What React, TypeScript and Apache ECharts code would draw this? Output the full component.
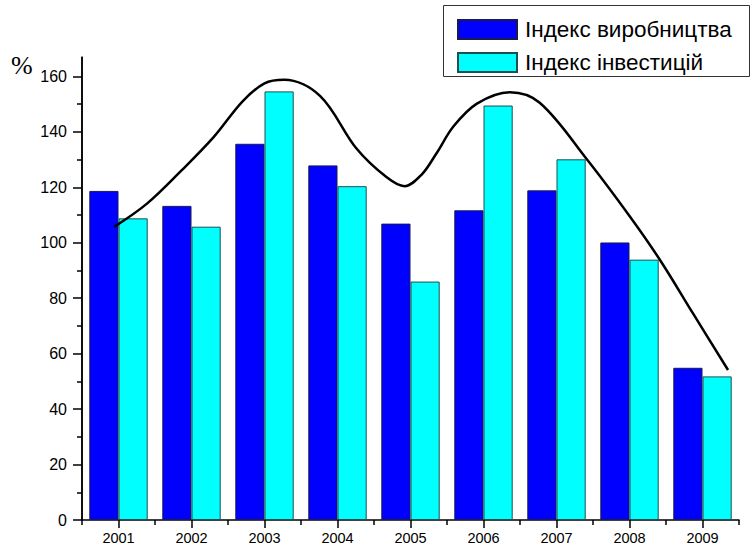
import React, { useEffect, useRef } from "react";
import * as echarts from "echarts";

const years = ["2001", "2002", "2003", "2004", "2005", "2006", "2007", "2008", "2009"];
const production = [118.7, 113.3, 135.7, 127.9, 106.9, 111.7, 118.9, 100.1, 54.9];
const investment = [108.8, 105.8, 154.6, 120.4, 86.0, 149.5, 130.1, 93.9, 51.8];
// Trend curve: [position in category widths from the left edge of the plot, value]
const curveX = [0.44, 0.89, 1.36, 1.8, 2.2, 2.5, 2.77, 3.26, 3.76, 4.17, 4.42, 4.65, 4.85, 5.09, 5.41, 5.86, 6.27, 6.91, 7.51, 7.92, 8.37, 8.85];
const curveY = [105.7, 114.1, 126.0, 138.0, 151.0, 157.5, 158.8, 153.0, 134.0, 123.7, 120.4, 124.5, 132.0, 142.0, 150.2, 154.3, 150.5, 130.3, 109.3, 93.7, 74.5, 54.1];
const majorTicks = [0, 20, 40, 60, 80, 100, 120, 140, 160];
const minorTicks = [10, 30, 50, 70, 90, 110, 130, 150];
const seriesNames = ["Індекс виробництва", "Індекс інвестицій"];

const FONT = "'Liberation Sans', Arial, sans-serif";

export default function App() {
  const ref = useRef<HTMLDivElement>(null);
  useEffect(() => {
    if (!ref.current) return;
    const chart = echarts.init(ref.current, null, { renderer: "svg" });
    const grid = { left: 82, top: 57, width: 657, height: 463 };
    chart.setOption({
      animation: false,
      backgroundColor: "#ffffff",
      grid,
      legend: {
        orient: "vertical",
        left: 457,
        top: 18,
        itemWidth: 59,
        itemHeight: 19,
        itemGap: 10,
        padding: 0,
        icon: "rect",
        data: seriesNames,
        textStyle: { fontFamily: FONT, fontSize: 22.5, color: "#000", padding: [0, 0, 0, 3] },
      },
      graphic: [
        {
          type: "rect",
          shape: { x: 443.5, y: 5.5, width: 306, height: 71 },
          style: { fill: "none", stroke: "#333", lineWidth: 1 },
          z: 1,
        },
        {
          type: "line",
          shape: { x1: grid.left, y1: grid.top, x2: grid.left, y2: grid.top + grid.height },
          style: { stroke: "#000", lineWidth: 1.5 },
          z: 10,
        },
        {
          type: "text",
          x: 11,
          y: 52,
          style: {
            text: "%",
            fontFamily: "'Liberation Serif', 'DejaVu Serif', serif",
            fontSize: 26,
            fill: "#000",
          },
        },
      ],
      xAxis: [
        {
          type: "category",
          data: years,
          boundaryGap: true,
          axisLine: { show: true, onZero: false, lineStyle: { color: "#000", width: 1.5 } },
          axisTick: { show: true, alignWithLabel: true, length: 8, lineStyle: { color: "#000", width: 1.5 } },
          axisLabel: { fontFamily: FONT, fontSize: 14.5, color: "#000", margin: 10 },
          splitLine: { show: false },
        },
        {
          type: "category",
          data: years,
          boundaryGap: true,
          position: "bottom",
          axisLine: { show: false, onZero: false },
          axisTick: { show: true, length: 5, lineStyle: { color: "#000", width: 1.5 } },
          axisLabel: { show: false },
          splitLine: { show: false },
        },
        {
          type: "value",
          min: 0,
          max: 9,
          position: "top",
          axisLine: { show: false, onZero: false },
          axisTick: { show: false },
          axisLabel: { show: false },
          splitLine: { show: false },
        },
      ],
      yAxis: [
        {
          type: "value",
          min: 0,
          max: 167,
          position: "left",
          axisLine: { show: true, lineStyle: { color: "#000", width: 1.5 } },
          axisTick: { show: true, length: 9, customValues: majorTicks, lineStyle: { color: "#000", width: 1.5 } },
          axisLabel: { fontFamily: FONT, fontSize: 16, color: "#000", margin: 15, customValues: majorTicks },
          splitLine: { show: false },
        },
        {
          type: "value",
          min: 0,
          max: 167,
          position: "left",
          axisLine: { show: false },
          axisTick: { show: true, length: 5, customValues: minorTicks, lineStyle: { color: "#000", width: 1.5 } },
          axisLabel: { show: false },
          splitLine: { show: false },
        },
      ],
      series: [
        {
          name: seriesNames[0],
          type: "bar",
          xAxisIndex: 0,
          yAxisIndex: 0,
          data: production,
          barGap: "0%",
          barCategoryGap: "20%",
          itemStyle: { color: "#0000ff", borderColor: "#1a1a50", borderWidth: 1 },
        },
        {
          name: seriesNames[1],
          type: "bar",
          xAxisIndex: 0,
          yAxisIndex: 0,
          data: investment,
          barGap: "0%",
          barCategoryGap: "20%",
          itemStyle: { color: "#00ffff", borderColor: "#1a5050", borderWidth: 1 },
        },
        {
          name: "trend",
          type: "line",
          xAxisIndex: 2,
          yAxisIndex: 0,
          data: curveX.map((x, i) => [x, curveY[i]]),
          smooth: 0.35,
          symbol: "none",
          lineStyle: { color: "#000", width: 2.5 },
          z: 5,
        },
      ],
    });
    return () => chart.dispose();
  }, []);
  return (
    <div
      ref={ref}
      style={{ position: "fixed", left: 0, top: 0, width: 754, height: 552, background: "#fff" }}
    />
  );
}
